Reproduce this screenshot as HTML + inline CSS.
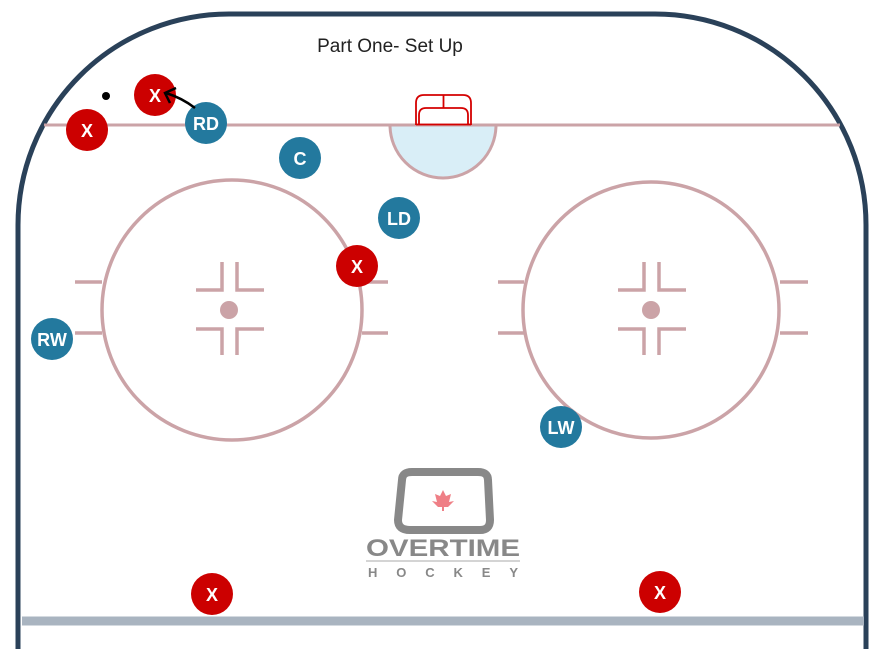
<!DOCTYPE html>
<html><head><style>body{margin:0;background:#fff}svg{display:block}</style></head><body>
<svg width="888" height="649" viewBox="0 0 888 649" xmlns="http://www.w3.org/2000/svg" font-family="Liberation Sans, sans-serif">
<rect width="888" height="649" fill="#fff"/>
<path d="M18,649 L18,225 A211,211 0 0 1 229,14 L655,14 A211,211 0 0 1 866,225 L866,649" fill="none" stroke="#2a4159" stroke-width="5"/>
<line x1="44" y1="125" x2="840" y2="125" stroke="#cba3a7" stroke-width="3"/>
<path d="M390,125 A53,53 0 0 0 496,125 Z" fill="#d9eef7" stroke="#cba3a7" stroke-width="3"/>
<g fill="none" stroke="#d40000" stroke-width="1.8">
<path d="M416,125 L416,103 Q416,95 424,95 L463,95 Q471,95 471,103 L471,125"/>
<path d="M419,125 L419,115 Q419,108 426,108 L461,108 Q468,108 468,115 L468,125"/>
<line x1="443.5" y1="95" x2="443.5" y2="108"/>
<line x1="416" y1="124.5" x2="471" y2="124.5"/>
</g>
<g fill="none" stroke="#cba3a7" stroke-width="3.5">
<circle cx="232" cy="310" r="130"/>
<circle cx="651" cy="310" r="128"/>
<path d="M75,282H102M75,333H102M362,282H388M362,333H388M498,282H524M498,333H524M780,282H808M780,333H808"/>
<path d="M222,262V290H196M237,262V290H264M222,355V329H196M237,355V329H264"/>
<path d="M644,262V290H618M659,262V290H686M644,355V329H618M659,355V329H686"/>
</g>
<circle cx="229" cy="310" r="9" fill="#cba3a7"/>
<circle cx="651" cy="310" r="9" fill="#cba3a7"/>
<line x1="22" y1="621" x2="864" y2="621" stroke="#a9b4c0" stroke-width="9"/>
<text x="390" y="52" font-size="19" fill="#222" text-anchor="middle">Part One- Set Up</text>
<g>
<path d="M402,480 Q402,472 412,472 L478,472 Q488,472 488,480 L490,520 Q490,530 480,530 L410,530 Q398,530 398,520 Z" fill="none" stroke="#888" stroke-width="8"/>
<path d="M443,490 l3,6 5,-2 -2,8 5,-1 -6,6 -4,0 0,4 -2,0 0,-4 -4,0 -6,-6 5,1 -2,-8 5,2z" fill="#ef7f86"/>
<text x="443" y="556" font-size="24" fill="#888" text-anchor="middle" font-weight="bold" textLength="154" lengthAdjust="spacingAndGlyphs">OVERTIME</text>
<line x1="366" y1="561" x2="520" y2="561" stroke="#aaa" stroke-width="1"/>
<text x="443" y="577" font-size="13" fill="#888" text-anchor="middle" textLength="150" font-weight="bold">HOCKEY</text>
</g>
<circle cx="106" cy="96" r="4" fill="#000"/>
<g font-weight="bold" font-size="18" fill="#fff" text-anchor="middle">
<circle cx="155" cy="95" r="21" fill="#cc0000"/><text x="155" y="102">X</text>
<circle cx="87" cy="130" r="21" fill="#cc0000"/><text x="87" y="137">X</text>
<circle cx="206" cy="123" r="21" fill="#23799e"/><text x="206" y="130">RD</text>
<circle cx="300" cy="158" r="21" fill="#23799e"/><text x="300" y="165">C</text>
<circle cx="399" cy="218" r="21" fill="#23799e"/><text x="399" y="225">LD</text>
<circle cx="357" cy="266" r="21" fill="#cc0000"/><text x="357" y="273">X</text>
<circle cx="52" cy="339" r="21" fill="#23799e"/><text x="52" y="346">RW</text>
<circle cx="561" cy="427" r="21" fill="#23799e"/><text x="561" y="434">LW</text>
<circle cx="212" cy="594" r="21" fill="#cc0000"/><text x="212" y="601">X</text>
<circle cx="660" cy="592" r="21" fill="#cc0000"/><text x="660" y="599">X</text>
</g>
<path d="M195,108 Q182,98 166,93 M176,88 L165,93 L170,103" fill="none" stroke="#000" stroke-width="2.5"/>
</svg>
</body></html>
